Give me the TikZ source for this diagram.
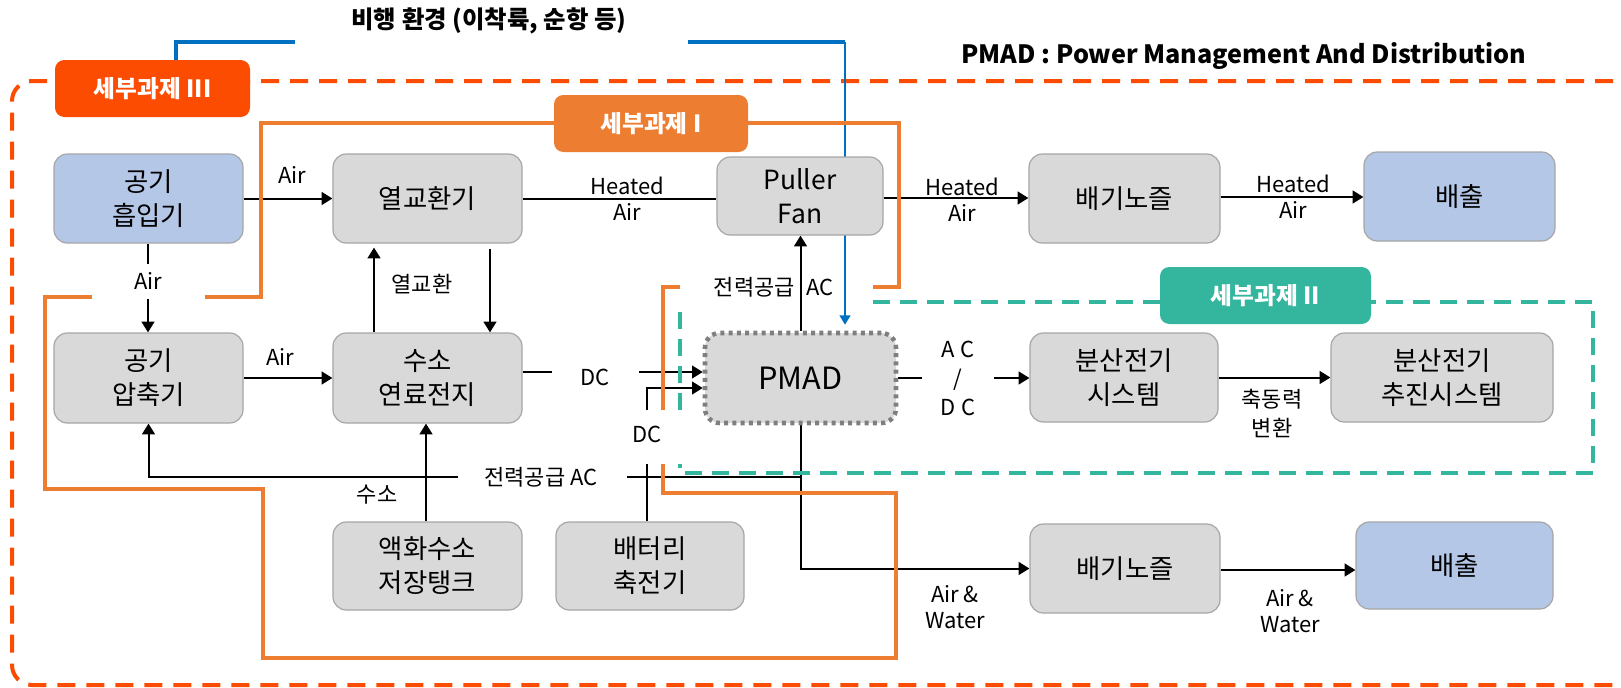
\documentclass[tikz,border=0pt]{standalone}
\usepackage{fontspec}
\setmainfont{Noto Sans CJK KR}
\usetikzlibrary{arrows.meta,backgrounds}
\definecolor{gfill}{HTML}{D9D9D9}
\definecolor{gline}{HTML}{A6A6A6}
\definecolor{bfill}{HTML}{B4C7E7}
\definecolor{orA}{HTML}{FC4C02}
\definecolor{orB}{HTML}{ED7D31}
\definecolor{tealA}{HTML}{33B59E}
\definecolor{bluA}{HTML}{0070C0}
\definecolor{pgray}{HTML}{7F7F7F}
\begin{document}
\begin{tikzpicture}[x=0.75pt,y=-0.75pt,
  box/.style={draw=gline, line width=0.9pt, rounded corners=10pt, fill=gfill, inner sep=0pt, align=center, font=\fontsize{19.8pt}{25.5pt}\selectfont},
  gbox/.style={box},
  bbox/.style={box, fill=bfill},
  pbox/.style={fill=gfill, draw=pgray, line width=3.4pt, dash pattern=on 3pt off 3.2pt, rounded corners=11pt, inner sep=0pt, font=\fontsize{23pt}{26pt}\selectfont},
  sz/.style 2 args={minimum width=#1*0.75pt, minimum height=#2*0.75pt},
  tag/.style={rounded corners=7pt, text=white, inner sep=0pt, font=\bfseries\fontsize{17.8pt}{19pt}\selectfont},
  lbl/.style={inner sep=0pt, align=center, font=\fontsize{16.5pt}{19.5pt}\selectfont},
  lblk/.style={inner sep=0pt, align=center, font=\fontsize{16.5pt}{21.75pt}\selectfont},
  ln/.style={draw=black, line width=1.5pt},
  arr/.style={ln, -{Triangle[length=8pt,width=9.5pt]}},
  oline/.style={orB, line width=3pt},
  tline/.style={tealA, line width=3pt, dash pattern=on 12.75pt off 7.5pt},
]
\useasboundingbox (0,0) rectangle (1621,687);

% titles
\node[font=\bfseries\fontsize{18.3pt}{20pt}\selectfont] (title) at (489,21) {비행 환경 (이착륙, 순항 등)};
\node[font=\bfseries\fontsize{18.9pt}{20pt}\selectfont] (pmadt) at (1244,56) {PMAD : Power Management And Distribution};

% tags
\node[tag, fill=orA, sz={195}{57}] (s3) at (152.5,88.5) {세부과제 III};
\node[tag, fill=orB, sz={194}{57}] (s1) at (651,123.5) {세부과제 I};
\node[tag, fill=tealA, sz={211}{57}] (s2) at (1265.5,295.5) {세부과제 II};

% boxes
\node[bbox, sz={189}{89}] (inA) at (148.5,198.5) {공기\\흡입기};
\node[gbox, sz={189}{89}] (hx) at (427.5,198.5) {열교환기};
\node[gbox, sz={166}{78}] (fan) at (800,196) {Puller\\Fan};
\node[gbox, sz={191}{89}] (noz1) at (1124.5,198.5) {배기노즐};
\node[bbox, sz={191}{89}] (ex1) at (1459.5,196.5) {배출};
\node[gbox, sz={189}{90}] (comp) at (148.5,378) {공기\\압축기};
\node[gbox, sz={189}{90}] (fc) at (427.5,378) {수소\\연료전지};
\node[pbox, sz={191}{90}] (pmad) at (800.5,378) {PMAD};
\node[gbox, sz={188}{89}] (des) at (1124,377.5) {분산전기\\시스템};
\node[gbox, sz={222}{89}] (dep) at (1442,377.5) {분산전기\\추진시스템};
\node[gbox, sz={189}{88}] (tank) at (427.5,566) {액화수소\\저장탱크};
\node[gbox, sz={188}{88}] (bat) at (650,566) {배터리\\축전기};
\node[gbox, sz={190}{89}] (noz2) at (1125,568.5) {배기노즐};
\node[bbox, sz={197}{87}] (ex2) at (1454.5,565.5) {배출};

% labels
\node[lbl] (lAir1) at (292,175) {Air};
\node[lbl] (lHA1) at (627,198.5) {Heated\\Air};
\node[lbl] (lHA2) at (962,200) {Heated\\Air};
\node[lbl] (lHA3) at (1293,196.5) {Heated\\Air};
\node[lbl] (lAir2) at (148,281) {Air};
\node[lbl] (lAir3) at (280,357) {Air};
\node[lbl] (lHXc) at (422,284) {열교환};
\node[lbl] (lDC1) at (595,377) {DC};
\node[lbl] (lDC2) at (647,434) {DC};
\node[lbl, anchor=east] (lPw1) at (795,287) {전력공급};
\node[lbl, anchor=west] (lAC1) at (806,287) {AC};
\node[lbl] (lPw2) at (541,477) {전력공급 AC};
\node[lbl] (lH2) at (377,495) {수소};
\node[lblk] (lACDC) at (958,378) {A C\\/\\D C};
\node[lblk] (lShaft) at (1272,413.5) {축동력\\변환};
\node[lbl] (lAW1) at (955,607.5) {Air \&\\Water};
\node[lbl] (lAW2) at (1290,611) {Air \&\\Water};

\begin{scope}[on background layer]
% outer dashed frame
\draw[orA, line width=3pt, dash pattern=on 13.5pt off 8.25pt, rounded corners=15pt] (1700,81) -- (12,81) -- (12,685) -- (1700,685);
% blue flight-environment line
\draw[bluA, line width=3pt] (s3.north -| 176,0) -- (176,42) -- (295,42);
\coordinate (bc) at (845,42);
\draw[bluA, line width=3pt] (688,42) -- (bc);
\draw[bluA, line width=1.6pt, -{Triangle[length=7pt,width=8pt]}, shorten >=4.5pt] (bc) -- (pmad.north -| bc);
% black connectors
\draw[arr] (inA.east) -- (hx.west);
\draw[ln] (hx.east) -- (hx.east -| fan.west);
\draw[arr] (fan.east |- 0,198) -- (noz1.west |- 0,198);
\draw[arr] (noz1.east |- 0,197) -- (ex1.west |- 0,197);
\draw[ln] (inA.south -| 148,0) -- (148,264);
\draw[arr] (148,299) -- (comp.north -| 148,0);
\draw[arr] (comp.east) -- (fc.west);
\draw[arr, shorten >=3pt] (fc.north -| 374,0) -- (hx.south -| 374,0);
\draw[arr, shorten <=4pt] (hx.south -| 490,0) -- (fc.north -| 490,0);
\draw[ln] (fc.east |- 0,372) -- (552,372);
\draw[arr] (639,372) -- (pmad.west |- 0,372);
\draw[ln] (bat.north -| 647,0) -- (647,464);
\draw[arr] (647,410) -- (647,388) -- (pmad.west |- 0,388);
\draw[arr] (pmad.north) -- (pmad.north |- fan.south);
\draw[arr] (pmad.south) -- (pmad.south |- noz2.west) -- (noz2.west);
\draw[ln] (pmad.south |- 0,477) -- (627,477);
\draw[arr] (458,477) -- (comp.south |- 0,477) -- (comp.south);
\draw[arr] (tank.north -| 426,0) -- (fc.south -| 426,0);
\draw[ln] (pmad.east) -- (922,378);
\draw[arr] (994,378) -- (des.west |- 0,378);
\draw[arr] (des.east) -- (dep.west);
\draw[arr] (noz2.east |- 0,570) -- (ex2.west |- 0,570);
% orange frame
\draw[oline] (873,287) -- (899,287) -- (899,123) -- (261,123) -- (261,297) -- (205,297);
\draw[oline] (92,297) -- (45,297) -- (45,489) -- (263,489) -- (263,658) -- (896,658) -- (896,493) -- (663,493) -- (663,464);
\draw[oline] (663,410) -- (663,287) -- (680,287);
% teal frame
\draw[tline] (873,302) -- (1593,302) -- (1593,473) -- (680,473) -- (680,464);
\draw[tline] (680,410) -- (680,306);
\end{scope}
\end{tikzpicture}
\end{document}
